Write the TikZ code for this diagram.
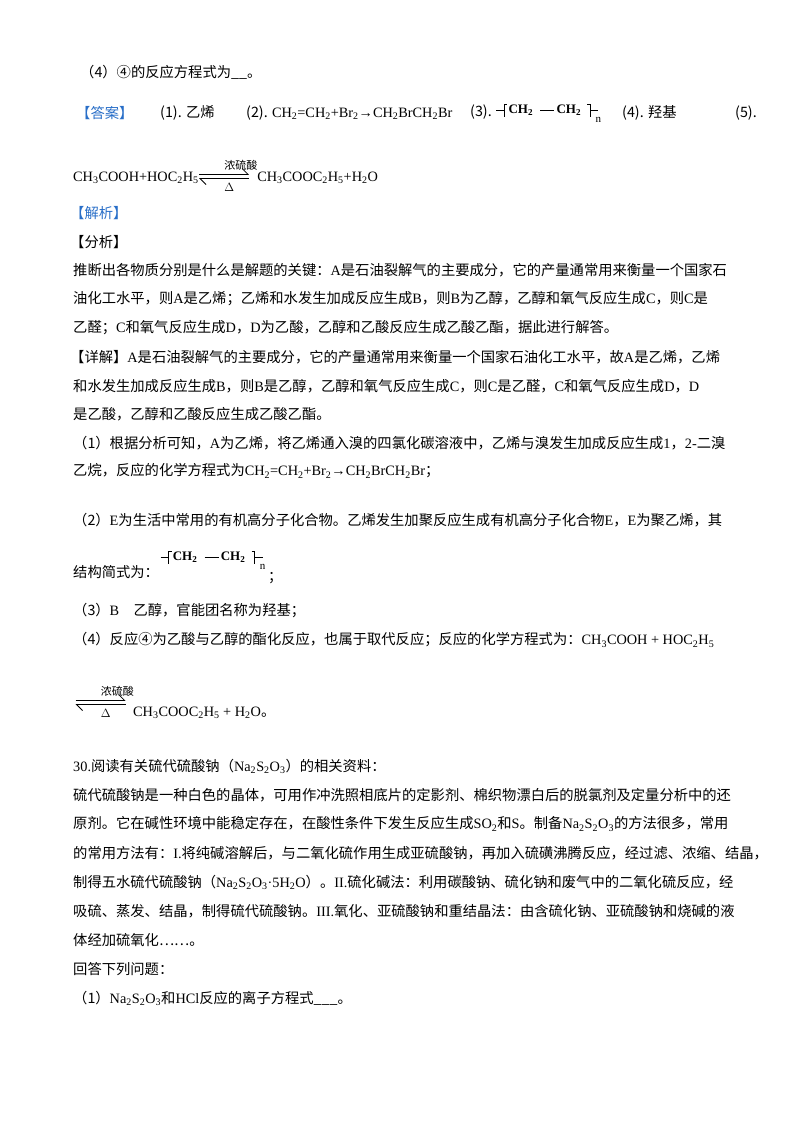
\documentclass[tikz,border=0pt]{standalone}
\usepackage{fontspec}
\setmainfont{Noto Sans CJK SC}
\newfontfamily\tm{Liberation Serif}
\usetikzlibrary{arrows.meta}
\definecolor{ans}{RGB}{40,110,200}
\newcommand{\ch}[1]{{\tm #1}}
\newcommand{\sbs}[1]{\textsubscript{#1}}
\newcommand{\eqarr}{\tikz[baseline=-0.6ex,x=1pt,y=1pt]{\draw[line width=0.8pt,-{Straight Barb[left,length=6pt]}](0,2)--(50,2);\draw[line width=0.8pt,-{Straight Barb[left,length=6pt]}](50,-2)--(0,-2);\node[font=\fontsize{11}{11}\selectfont] at (25,11) {浓硫酸};\node[font=\fontsize{13}{13}\selectfont\tm] at (25,-11) {$\Delta$};}}
\newcommand{\poly}{\tikz[baseline=-0.6ex,x=1pt,y=1pt]{\draw[line width=0.7pt](0,2)--(8,2);\draw[line width=0.7pt](8,-5)--(8,8)--(11,8);\node[anchor=west,inner sep=0pt,font=\tm\bfseries\fontsize{13}{13}\selectfont] at (12,2) {CH\sbs{2}};\draw[line width=0.7pt](44,2)--(58,2);\node[anchor=west,inner sep=0pt,font=\tm\bfseries\fontsize{13}{13}\selectfont] at (60,2) {CH\sbs{2}};\draw[line width=0.7pt](91,8)--(94,8)--(94,-5);\draw[line width=0.7pt](94,2)--(102,2);\node[font=\tm\fontsize{11}{11}\selectfont] at (99,-8) {n};}}
\begin{document}
\begin{tikzpicture}[x=1pt,y=-1pt,t/.style={anchor=west,inner sep=0pt,font=\fontsize{14.3}{15}\selectfont}]
\useasboundingbox[fill=white](0,0) rectangle (800,1132);
\node[t] (l1) at (80,72) {（4）④的反应方程式为\_\_。};
\node[t,text=ans] (ans) at (76,113) {【答案】};
\node[t] (a1) at (160,113) {(1). 乙烯};
\node[t] (a2) at (246,113) {(2). \ch{CH\sbs{2}=CH\sbs{2}+Br\sbs{2}→CH\sbs{2}BrCH\sbs{2}Br}};
\node[t] (a3) at (470,113) {(3). \poly};
\node[t] (a4) at (622,113) {(4). 羟基};
\node[t] (a5) at (735,113) {(5).};
\node[t] (e1) at (73,176) {\ch{CH\sbs{3}COOH+HOC\sbs{2}H\sbs{5}}\eqarr\ch{CH\sbs{3}COOC\sbs{2}H\sbs{5}+H\sbs{2}O}};
\node[t,text=ans] (jx) at (70,213) {【解析】};
\node[t] (fx) at (70,242) {【分析】};
\node[t] (p1) at (73,270) {推断出各物质分别是什么是解题的关键：\ch{A}是石油裂解气的主要成分，它的产量通常用来衡量一个国家石};
\node[t] (p2) at (73,299) {油化工水平，则\ch{A}是乙烯；乙烯和水发生加成反应生成\ch{B}，则\ch{B}为乙醇，乙醇和氧气反应生成\ch{C}，则\ch{C}是};
\node[t] (p3) at (73,328) {乙醛；\ch{C}和氧气反应生成\ch{D}，\ch{D}为乙酸，乙醇和乙酸反应生成乙酸乙酯，据此进行解答。};
\node[t] (p4) at (70,357) {【详解】\ch{A}是石油裂解气的主要成分，它的产量通常用来衡量一个国家石油化工水平，故\ch{A}是乙烯，乙烯};
\node[t] (p5) at (73,386) {和水发生加成反应生成\ch{B}，则\ch{B}是乙醇，乙醇和氧气反应生成\ch{C}，则\ch{C}是乙醛，\ch{C}和氧气反应生成\ch{D}，\ch{D}};
\node[t] (p6) at (73,414) {是乙酸，乙醇和乙酸反应生成乙酸乙酯。};
\node[t] (p7) at (73,443) {（1）根据分析可知，\ch{A}为乙烯，将乙烯通入溴的四氯化碳溶液中，乙烯与溴发生加成反应生成\ch{1}，\ch{2-}二溴};
\node[t] (p8) at (73,471) {乙烷，反应的化学方程式为\ch{CH\sbs{2}=CH\sbs{2}+Br\sbs{2}→CH\sbs{2}BrCH\sbs{2}Br}；};
\node[t] (p9) at (73,520) {（2）\ch{E}为生活中常用的有机高分子化合物。乙烯发生加聚反应生成有机高分子化合物\ch{E}，\ch{E}为聚乙烯，其};
\node[t] (p10) at (73,572) {结构简式为：};
\node[anchor=west,inner sep=0pt] (pl) at (160,560) {\poly};
\node[t] (sc) at (268,578) {；};
\node[t] (p11) at (73,611) {（3）\ch{B}\quad 乙醇，官能团名称为羟基；};
\node[t] (p12) at (73,640) {（4）反应④为乙酸与乙醇的酯化反应，也属于取代反应；反应的化学方程式为：\ch{CH\sbs{3}COOH + HOC\sbs{2}H\sbs{5}}};
\node[anchor=west,inner sep=0pt] (ea) at (75,702) {\eqarr};
\node[t] (p13) at (133,713) {\ch{CH\sbs{3}COOC\sbs{2}H\sbs{5} + H\sbs{2}O}。};
\node[t] (q0) at (73,766) {\ch{30.}阅读有关硫代硫酸钠（\ch{Na\sbs{2}S\sbs{2}O\sbs{3}}）的相关资料：};
\node[t] (q1) at (73,795) {硫代硫酸钠是一种白色的晶体，可用作冲洗照相底片的定影剂、棉织物漂白后的脱氯剂及定量分析中的还};
\node[t] (q2) at (73,824) {原剂。它在碱性环境中能稳定存在，在酸性条件下发生反应生成\ch{SO\sbs{2}}和\ch{S}。制备\ch{Na\sbs{2}S\sbs{2}O\sbs{3}}的方法很多，常用};
\node[t] (q3) at (73,853) {的常用方法有：\ch{I.}将纯碱溶解后，与二氧化硫作用生成亚硫酸钠，再加入硫磺沸腾反应，经过滤、浓缩、结晶，};
\node[t] (q4) at (73,882) {制得五水硫代硫酸钠（\ch{Na\sbs{2}S\sbs{2}O\sbs{3}·5H\sbs{2}O}）。\ch{II.}硫化碱法：利用碳酸钠、硫化钠和废气中的二氧化硫反应，经};
\node[t] (q5) at (73,911) {吸硫、蒸发、结晶，制得硫代硫酸钠。\ch{III.}氧化、亚硫酸钠和重结晶法：由含硫化钠、亚硫酸钠和烧碱的液};
\node[t] (q6) at (73,940) {体经加硫氧化……。};
\node[t] (q7) at (73,969) {回答下列问题：};
\node[t] (q8) at (73,998) {（1）\ch{Na\sbs{2}S\sbs{2}O\sbs{3}}和\ch{HCl}反应的离子方程式\_\_\_。};
\end{tikzpicture}
\end{document}
